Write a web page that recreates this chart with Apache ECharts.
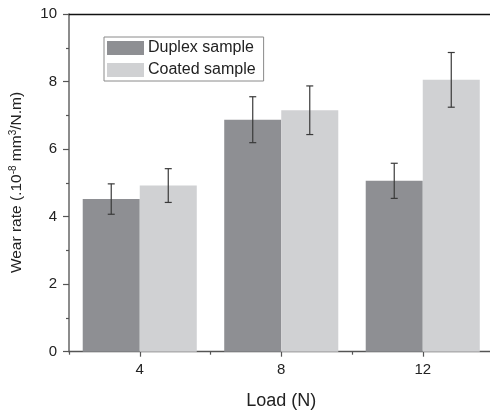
<!DOCTYPE html>
<html>
<head>
<meta charset="utf-8">
<script src="https://cdn.jsdelivr.net/npm/echarts@6/dist/echarts.min.js"></script>
<style>
  html, body { margin: 0; padding: 0; background: #fff; }
  #chart { width: 490px; height: 411px; }
</style>
</head>
<body>
<div id="chart"></div>
<script>
// Wear rate of duplex and coated samples against applied load
const loads = ['4', '8', '12'];
const duplexRate = [4.52, 6.87, 5.06];
const duplexErr = [0.45, 0.68, 0.52];
const coatedRate = [4.92, 7.15, 8.05];
const coatedErr = [0.50, 0.72, 0.81];
const yTicks = [0, 2, 4, 6, 8, 10];

const FONT = '"Liberation Sans", Arial, sans-serif';
const DUPLEX_COLOR = '#8e8f93';
const COATED_COLOR = '#d0d1d3';
const GAP = 0.194;

// error bar rows: [categoryIndex, low, high, side]
function errRows(vals, errs, side) {
  return vals.map((v, i) => [i, v - errs[i], v + errs[i], side]);
}

function renderErr(params, api) {
  const idx = api.value(0);
  const lo = api.coord([idx, api.value(1)]);
  const hi = api.coord([idx, api.value(2)]);
  const band = api.size([1, 0])[0];
  const barW = band * (1 - GAP) / 2;
  const x = lo[0] + api.value(3) * barW / 2;
  const cap = 3.5;
  const style = { stroke: '#3a3a3a', lineWidth: 1.2 };
  return {
    type: 'group',
    children: [
      { type: 'line', shape: { x1: x, y1: hi[1], x2: x, y2: lo[1] }, style },
      { type: 'line', shape: { x1: x - cap, y1: hi[1], x2: x + cap, y2: hi[1] }, style },
      { type: 'line', shape: { x1: x - cap, y1: lo[1], x2: x + cap, y2: lo[1] }, style }
    ]
  };
}

const chart = echarts.init(document.getElementById('chart'), null, { renderer: 'canvas' });

chart.setOption({
  backgroundColor: '#fff',
  animation: false,
  textStyle: { fontFamily: FONT },
  grid: {
    left: 69, top: 14, width: 424.5, height: 337.7,
    containLabel: false,
    outerBoundsMode: 'none'
  },
  legend: {
    data: ['Duplex sample', 'Coated sample'],
    orient: 'vertical',
    left: 104,
    top: 37,
    icon: 'rect',
    itemWidth: 37,
    itemHeight: 14,
    itemGap: 6,
    padding: [3, 8, 3, 3],
    borderColor: '#8a8a8a',
    borderWidth: 1,
    textStyle: { fontFamily: FONT, fontSize: 16, color: '#222', padding: [0, 0, 0, -1] }
  },
  xAxis: [
    {
      type: 'category',
      data: loads,
      position: 'bottom',
      axisLine: { show: true, lineStyle: { color: '#555', width: 1.3 } },
      axisTick: { show: true, alignWithLabel: true, length: 5, lineStyle: { color: '#555', width: 1.2 } },
      axisLabel: { fontFamily: FONT, fontSize: 15, color: '#222', margin: 11 },
      name: 'Load (N)',
      nameLocation: 'middle',
      nameGap: 40,
      nameTextStyle: { fontFamily: FONT, fontSize: 18, color: '#222' },
      splitLine: { show: false }
    },
    {
      // boundary ticks between load groups
      type: 'category',
      data: loads,
      position: 'bottom',
      axisLine: { show: false },
      axisTick: { show: true, length: 3, lineStyle: { color: '#555', width: 1.2 } },
      axisLabel: { show: false },
      splitLine: { show: false }
    },
    {
      // frame line along the top of the plot
      type: 'category',
      data: loads,
      position: 'top',
      axisLine: { show: true, lineStyle: { color: '#111', width: 1.3 } },
      axisTick: { show: false },
      axisLabel: { show: false },
      splitLine: { show: false }
    }
  ],
  yAxis: {
    type: 'value',
    min: yTicks[0],
    max: yTicks[yTicks.length - 1],
    interval: 2,
    axisLine: { show: true, lineStyle: { color: '#666', width: 1.5 } },
    axisTick: { show: true, length: 6, lineStyle: { color: '#555', width: 1.2 } },
    minorTick: { show: true, splitNumber: 2, length: 3, lineStyle: { color: '#555', width: 1.2 } },
    axisLabel: { fontFamily: FONT, fontSize: 15, color: '#222', margin: 12 },
    splitLine: { show: false }
  },
  graphic: [
    {
      type: 'text',
      x: 17,
      y: 182.5,
      rotation: Math.PI / 2,
      style: {
        text: 'Wear rate (.10{sup|-8} mm{sup|3}/N.m)',
        fontFamily: FONT,
        fontSize: 15.5,
        fill: '#222',
        align: 'center',
        verticalAlign: 'middle',
        rich: {
          sup: { fontFamily: FONT, fontSize: 10, fill: '#222', verticalAlign: 'top', padding: [0, 0, 7, 0] }
        }
      }
    }
  ],
  series: [
    {
      name: 'Duplex sample',
      type: 'bar',
      data: duplexRate,
      barGap: '0%',
      barCategoryGap: (GAP * 100) + '%',
      itemStyle: { color: DUPLEX_COLOR },
      z: 2
    },
    {
      name: 'Coated sample',
      type: 'bar',
      data: coatedRate,
      barGap: '0%',
      barCategoryGap: (GAP * 100) + '%',
      itemStyle: { color: COATED_COLOR },
      z: 2
    },
    {
      name: 'duplexErr',
      type: 'custom',
      renderItem: renderErr,
      data: errRows(duplexRate, duplexErr, -1),
      encode: { x: 0, y: [1, 2] },
      z: 5
    },
    {
      name: 'coatedErr',
      type: 'custom',
      renderItem: renderErr,
      data: errRows(coatedRate, coatedErr, 1),
      encode: { x: 0, y: [1, 2] },
      z: 5
    }
  ]
});
</script>
</body>
</html>
